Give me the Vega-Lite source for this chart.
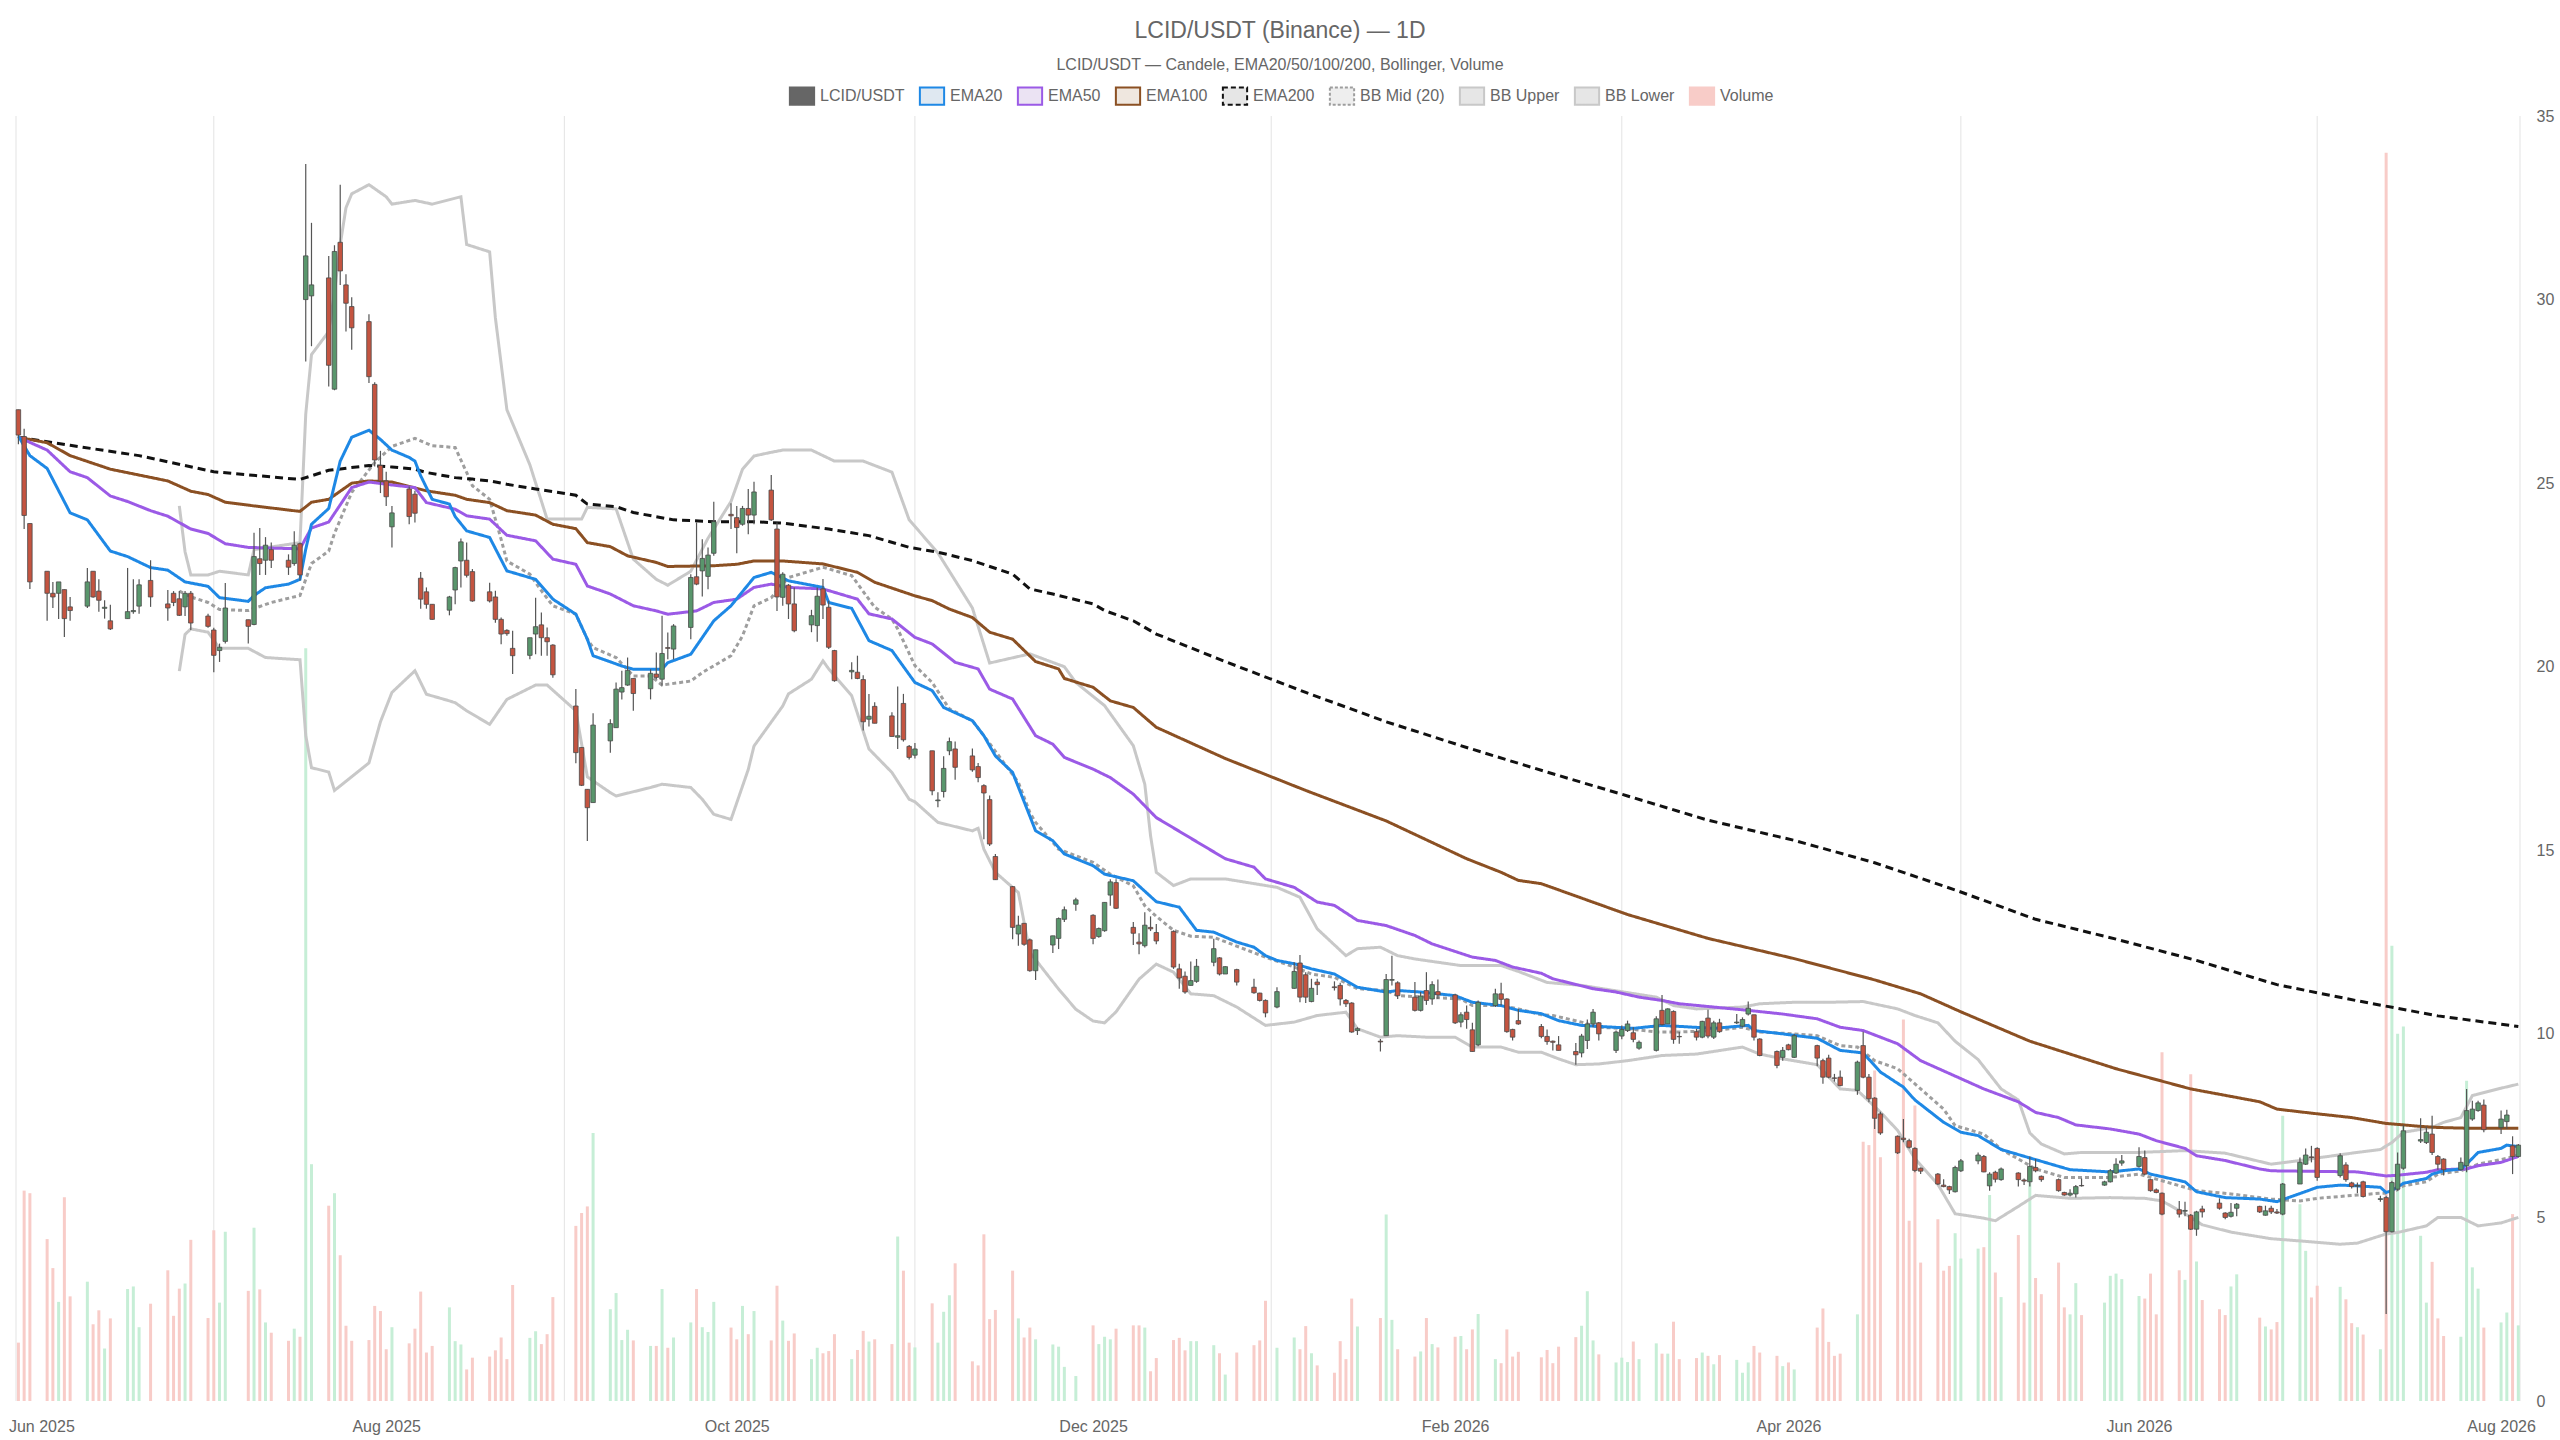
{
  "$schema": "https://vega.github.io/schema/vega-lite/v6.json",
  "width": 2514,
  "height": 1285,
  "autosize": "none",
  "padding": {"left": 11, "top": 116, "right": 35, "bottom": 39},
  "background": "white",
  "config": {
    "font": "Liberation Sans",
    "view": {"stroke": null},
    "axisX": {"grid": false, "domain": false, "ticks": false, "labelFontSize": 16, "labelColor": "#666666", "labelPadding": 17, "title": null},
    "axisY": {"domain": false, "ticks": false, "grid": true, "gridColor": "#d9d9d9", "gridDash": [3, 3], "labelFontSize": 16, "labelColor": "#666666", "labelPadding": 11, "title": null}
  },
  "title": {
    "text": "LCID/USDT (Binance) — 1D",
    "subtitle": "LCID/USDT — Candele, EMA20/50/100/200, Bollinger, Volume",
    "anchor": "middle",
    "frame": "group",
    "dx": 12,
    "offset": 13,
    "fontSize": 23,
    "fontWeight": "normal",
    "color": "#666666",
    "subtitleFontSize": 16,
    "subtitleColor": "#666666",
    "subtitlePadding": 14
  },
  "datasets": {
    "grid": [
      {"d": "2025-05-27T14:00:00Z"},
      {"d": "2025-07-01"}, {"d": "2025-08-31"}, {"d": "2025-10-31"}, {"d": "2026-01-01"},
      {"d": "2026-03-03"}, {"d": "2026-05-01"}, {"d": "2026-07-02"},
      {"d": "2026-08-06T07:00:00Z"}
    ],
    "candles": [
      {"d":"2025-05-28","o":27.0,"h":27.0,"l":26.06,"c":26.31,"v":1.59},
      {"d":"2025-05-29","o":26.27,"h":26.48,"l":23.75,"c":24.12,"v":5.73},
      {"d":"2025-05-30","o":23.9,"h":23.9,"l":22.12,"c":22.31,"v":5.66},
      {"d":"2025-06-02","o":22.6,"h":22.6,"l":21.25,"c":22.0,"v":4.41},
      {"d":"2025-06-03","o":22.0,"h":22.31,"l":21.6,"c":21.9,"v":3.62},
      {"d":"2025-06-04","o":22.0,"h":22.31,"l":21.3,"c":22.31,"v":2.7},
      {"d":"2025-06-05","o":22.1,"h":22.1,"l":20.81,"c":21.31,"v":5.55},
      {"d":"2025-06-06","o":21.63,"h":21.9,"l":21.25,"c":21.53,"v":2.85},
      {"d":"2025-06-09","o":21.65,"h":22.69,"l":21.6,"c":22.31,"v":3.25},
      {"d":"2025-06-10","o":22.6,"h":22.6,"l":21.88,"c":21.9,"v":2.09},
      {"d":"2025-06-11","o":22.06,"h":22.38,"l":21.5,"c":21.81,"v":2.47},
      {"d":"2025-06-12","o":21.59,"h":21.81,"l":21.31,"c":21.62,"v":1.43},
      {"d":"2025-06-13","o":21.25,"h":21.69,"l":21.0,"c":21.03,"v":2.25},
      {"d":"2025-06-16","o":21.31,"h":22.69,"l":21.31,"c":21.5,"v":3.05},
      {"d":"2025-06-17","o":21.5,"h":22.38,"l":21.44,"c":21.53,"v":3.12},
      {"d":"2025-06-18","o":21.65,"h":22.38,"l":21.44,"c":22.23,"v":2.01},
      {"d":"2025-06-20","o":22.35,"h":22.9,"l":21.63,"c":21.9,"v":2.65},
      {"d":"2025-06-23","o":21.71,"h":22.09,"l":21.25,"c":21.6,"v":3.56},
      {"d":"2025-06-24","o":22.0,"h":22.06,"l":21.65,"c":21.75,"v":2.32},
      {"d":"2025-06-25","o":21.85,"h":22.06,"l":21.38,"c":21.4,"v":3.06},
      {"d":"2025-06-26","o":21.63,"h":22.06,"l":21.38,"c":22.0,"v":3.2},
      {"d":"2025-06-27","o":22.0,"h":22.06,"l":21.0,"c":21.19,"v":4.39},
      {"d":"2025-06-30","o":21.38,"h":21.44,"l":21.06,"c":21.1,"v":2.26},
      {"d":"2025-07-01","o":21.0,"h":21.06,"l":19.85,"c":20.31,"v":4.65},
      {"d":"2025-07-02","o":20.44,"h":20.63,"l":20.13,"c":20.53,"v":2.68},
      {"d":"2025-07-03","o":20.69,"h":22.28,"l":20.63,"c":21.6,"v":4.61},
      {"d":"2025-07-07","o":21.28,"h":21.28,"l":20.63,"c":21.1,"v":3.0},
      {"d":"2025-07-08","o":21.15,"h":23.65,"l":21.13,"c":23.0,"v":4.72},
      {"d":"2025-07-09","o":22.94,"h":23.78,"l":22.5,"c":22.81,"v":3.04},
      {"d":"2025-07-10","o":22.9,"h":23.53,"l":22.5,"c":23.31,"v":2.14},
      {"d":"2025-07-11","o":23.19,"h":23.38,"l":22.69,"c":22.9,"v":1.86},
      {"d":"2025-07-14","o":22.9,"h":23.06,"l":22.5,"c":22.71,"v":1.64},
      {"d":"2025-07-15","o":22.81,"h":23.69,"l":22.75,"c":23.31,"v":1.97},
      {"d":"2025-07-16","o":23.35,"h":23.38,"l":22.35,"c":22.5,"v":1.75},
      {"d":"2025-07-17","o":30.0,"h":33.69,"l":28.31,"c":31.19,"v":20.5},
      {"d":"2025-07-18","o":30.1,"h":32.09,"l":28.73,"c":30.4,"v":6.45},
      {"d":"2025-07-21","o":30.59,"h":31.19,"l":27.63,"c":28.21,"v":5.32},
      {"d":"2025-07-22","o":27.56,"h":31.48,"l":27.53,"c":31.31,"v":5.66},
      {"d":"2025-07-23","o":31.56,"h":33.13,"l":30.4,"c":30.78,"v":3.97},
      {"d":"2025-07-24","o":30.4,"h":30.69,"l":29.13,"c":29.9,"v":2.05},
      {"d":"2025-07-25","o":29.81,"h":30.06,"l":28.63,"c":29.23,"v":1.64},
      {"d":"2025-07-28","o":29.4,"h":29.6,"l":27.73,"c":27.9,"v":1.66},
      {"d":"2025-07-29","o":27.69,"h":27.75,"l":25.45,"c":25.63,"v":2.59},
      {"d":"2025-07-30","o":25.48,"h":25.88,"l":24.73,"c":25.06,"v":2.45},
      {"d":"2025-07-31","o":25.06,"h":25.31,"l":24.38,"c":24.63,"v":1.41},
      {"d":"2025-08-01","o":23.81,"h":24.38,"l":23.25,"c":24.19,"v":2.01},
      {"d":"2025-08-04","o":24.84,"h":24.91,"l":23.88,"c":24.09,"v":1.57},
      {"d":"2025-08-05","o":24.7,"h":24.79,"l":23.93,"c":24.18,"v":1.97},
      {"d":"2025-08-06","o":22.41,"h":22.58,"l":21.58,"c":21.84,"v":2.98},
      {"d":"2025-08-07","o":22.04,"h":22.16,"l":21.58,"c":21.7,"v":1.32},
      {"d":"2025-08-08","o":21.7,"h":21.7,"l":21.28,"c":21.29,"v":1.5},
      {"d":"2025-08-11","o":21.54,"h":21.93,"l":21.4,"c":21.9,"v":2.55},
      {"d":"2025-08-12","o":22.09,"h":22.72,"l":21.7,"c":22.7,"v":1.63},
      {"d":"2025-08-13","o":22.88,"h":23.49,"l":22.16,"c":23.4,"v":1.54},
      {"d":"2025-08-14","o":22.9,"h":23.38,"l":22.43,"c":22.49,"v":0.86},
      {"d":"2025-08-15","o":22.59,"h":22.66,"l":21.77,"c":21.79,"v":1.18},
      {"d":"2025-08-18","o":22.04,"h":22.29,"l":21.75,"c":21.79,"v":1.21},
      {"d":"2025-08-19","o":21.9,"h":22.07,"l":21.2,"c":21.29,"v":1.38},
      {"d":"2025-08-20","o":21.29,"h":21.34,"l":20.61,"c":20.89,"v":1.73},
      {"d":"2025-08-21","o":20.99,"h":21.02,"l":20.84,"c":20.9,"v":1.14},
      {"d":"2025-08-22","o":20.5,"h":20.98,"l":19.8,"c":20.3,"v":3.16},
      {"d":"2025-08-25","o":20.31,"h":20.79,"l":20.2,"c":20.79,"v":1.72},
      {"d":"2025-08-26","o":20.89,"h":21.88,"l":20.34,"c":21.09,"v":1.9},
      {"d":"2025-08-27","o":21.14,"h":21.48,"l":20.3,"c":20.79,"v":1.55},
      {"d":"2025-08-28","o":20.79,"h":21.07,"l":20.3,"c":20.68,"v":1.82},
      {"d":"2025-08-29","o":20.59,"h":20.61,"l":19.7,"c":19.78,"v":2.83},
      {"d":"2025-09-02","o":18.93,"h":19.39,"l":17.37,"c":17.66,"v":4.77},
      {"d":"2025-09-03","o":17.8,"h":17.8,"l":16.75,"c":16.77,"v":5.12},
      {"d":"2025-09-04","o":16.66,"h":16.66,"l":15.25,"c":16.16,"v":5.3},
      {"d":"2025-09-05","o":16.3,"h":18.73,"l":16.3,"c":18.41,"v":7.3},
      {"d":"2025-09-08","o":17.98,"h":18.57,"l":17.66,"c":18.45,"v":2.5},
      {"d":"2025-09-09","o":18.34,"h":19.57,"l":18.34,"c":19.39,"v":2.94},
      {"d":"2025-09-10","o":19.31,"h":19.89,"l":19.11,"c":19.43,"v":1.66},
      {"d":"2025-09-11","o":19.5,"h":20.25,"l":19.48,"c":19.9,"v":1.94},
      {"d":"2025-09-12","o":19.68,"h":19.68,"l":18.8,"c":19.27,"v":1.65},
      {"d":"2025-09-15","o":19.4,"h":19.93,"l":19.11,"c":19.82,"v":1.5},
      {"d":"2025-09-16","o":19.8,"h":20.39,"l":19.66,"c":19.71,"v":1.5},
      {"d":"2025-09-17","o":19.66,"h":21.39,"l":19.48,"c":20.36,"v":3.05},
      {"d":"2025-09-18","o":20.52,"h":20.93,"l":20.2,"c":20.5,"v":1.45},
      {"d":"2025-09-19","o":20.48,"h":21.16,"l":20.2,"c":21.11,"v":1.73},
      {"d":"2025-09-22","o":21.07,"h":22.52,"l":20.75,"c":22.43,"v":2.14},
      {"d":"2025-09-23","o":22.45,"h":23.93,"l":22.22,"c":22.25,"v":3.05},
      {"d":"2025-09-24","o":22.61,"h":23.47,"l":21.91,"c":22.95,"v":2.01},
      {"d":"2025-09-25","o":22.46,"h":23.25,"l":22.11,"c":23.04,"v":1.88},
      {"d":"2025-09-26","o":23.09,"h":24.49,"l":23.02,"c":23.95,"v":2.7},
      {"d":"2025-09-29","o":24.15,"h":24.45,"l":23.75,"c":24.11,"v":2.0},
      {"d":"2025-09-30","o":24.06,"h":24.38,"l":23.09,"c":23.79,"v":1.68},
      {"d":"2025-10-01","o":23.88,"h":24.38,"l":23.84,"c":24.31,"v":2.59},
      {"d":"2025-10-02","o":24.31,"h":24.84,"l":23.61,"c":24.13,"v":1.82},
      {"d":"2025-10-03","o":24.13,"h":25.04,"l":23.88,"c":24.76,"v":2.45},
      {"d":"2025-10-06","o":24.81,"h":25.22,"l":23.97,"c":24.0,"v":1.65},
      {"d":"2025-10-07","o":23.75,"h":23.93,"l":21.52,"c":21.9,"v":3.14},
      {"d":"2025-10-08","o":21.89,"h":22.57,"l":21.66,"c":22.52,"v":2.19},
      {"d":"2025-10-09","o":22.22,"h":22.25,"l":21.3,"c":21.71,"v":1.64},
      {"d":"2025-10-10","o":21.71,"h":22.16,"l":20.94,"c":20.98,"v":1.84},
      {"d":"2025-10-13","o":21.14,"h":21.55,"l":20.94,"c":21.39,"v":1.14},
      {"d":"2025-10-14","o":21.12,"h":22.16,"l":20.68,"c":21.92,"v":1.45},
      {"d":"2025-10-15","o":22.12,"h":22.39,"l":21.3,"c":21.68,"v":1.3},
      {"d":"2025-10-16","o":21.62,"h":21.8,"l":20.48,"c":20.53,"v":1.36},
      {"d":"2025-10-17","o":20.44,"h":20.46,"l":19.59,"c":19.62,"v":1.82},
      {"d":"2025-10-20","o":19.86,"h":20.12,"l":19.66,"c":19.9,"v":1.14},
      {"d":"2025-10-21","o":19.85,"h":20.3,"l":19.66,"c":19.68,"v":1.39},
      {"d":"2025-10-22","o":19.65,"h":19.77,"l":18.26,"c":18.5,"v":1.91},
      {"d":"2025-10-23","o":18.57,"h":19.26,"l":18.37,"c":18.65,"v":1.62},
      {"d":"2025-10-24","o":18.92,"h":19.03,"l":18.46,"c":18.46,"v":1.68},
      {"d":"2025-10-27","o":18.66,"h":18.76,"l":18.1,"c":18.1,"v":1.55},
      {"d":"2025-10-28","o":18.08,"h":19.46,"l":17.76,"c":18.12,"v":4.48},
      {"d":"2025-10-29","o":19.0,"h":19.26,"l":17.96,"c":18.01,"v":3.55},
      {"d":"2025-10-30","o":17.83,"h":17.87,"l":17.47,"c":17.53,"v":1.59},
      {"d":"2025-10-31","o":17.59,"h":17.92,"l":17.5,"c":17.76,"v":1.46},
      {"d":"2025-11-03","o":17.71,"h":17.71,"l":16.5,"c":16.62,"v":2.66},
      {"d":"2025-11-04","o":16.35,"h":16.58,"l":16.17,"c":16.37,"v":1.59},
      {"d":"2025-11-05","o":16.6,"h":17.56,"l":16.44,"c":17.23,"v":2.43},
      {"d":"2025-11-06","o":17.71,"h":18.07,"l":17.59,"c":17.96,"v":2.88},
      {"d":"2025-11-07","o":17.76,"h":17.96,"l":16.92,"c":17.26,"v":3.75},
      {"d":"2025-11-10","o":17.57,"h":17.77,"l":17.14,"c":17.19,"v":1.08},
      {"d":"2025-11-11","o":17.28,"h":17.38,"l":16.85,"c":16.98,"v":0.97},
      {"d":"2025-11-12","o":16.76,"h":16.8,"l":15.3,"c":16.56,"v":4.54},
      {"d":"2025-11-13","o":16.38,"h":16.49,"l":15.12,"c":15.17,"v":2.23},
      {"d":"2025-11-14","o":14.83,"h":14.9,"l":14.2,"c":14.2,"v":2.48},
      {"d":"2025-11-17","o":14.01,"h":14.03,"l":12.58,"c":12.9,"v":3.55},
      {"d":"2025-11-18","o":12.72,"h":13.22,"l":12.4,"c":12.96,"v":2.25},
      {"d":"2025-11-19","o":13.01,"h":13.01,"l":12.4,"c":12.44,"v":1.73},
      {"d":"2025-11-20","o":12.56,"h":12.6,"l":11.69,"c":11.72,"v":2.0},
      {"d":"2025-11-21","o":11.72,"h":12.29,"l":11.47,"c":12.29,"v":1.68},
      {"d":"2025-11-24","o":12.42,"h":12.67,"l":12.2,"c":12.67,"v":1.54},
      {"d":"2025-11-25","o":12.6,"h":13.17,"l":12.31,"c":13.14,"v":1.48},
      {"d":"2025-11-26","o":13.12,"h":13.47,"l":13.05,"c":13.38,"v":0.93},
      {"d":"2025-11-28","o":13.53,"h":13.71,"l":13.35,"c":13.65,"v":0.68},
      {"d":"2025-12-01","o":13.23,"h":13.26,"l":12.44,"c":12.6,"v":2.06},
      {"d":"2025-12-02","o":12.65,"h":12.9,"l":12.62,"c":12.87,"v":1.55},
      {"d":"2025-12-03","o":12.81,"h":13.58,"l":12.78,"c":13.58,"v":1.75},
      {"d":"2025-12-04","o":13.78,"h":14.21,"l":13.49,"c":14.14,"v":1.68},
      {"d":"2025-12-05","o":14.12,"h":14.21,"l":13.4,"c":13.42,"v":1.97},
      {"d":"2025-12-08","o":12.9,"h":13.05,"l":12.42,"c":12.74,"v":2.06},
      {"d":"2025-12-09","o":12.5,"h":12.74,"l":12.17,"c":12.45,"v":2.06},
      {"d":"2025-12-10","o":12.4,"h":13.31,"l":12.35,"c":12.96,"v":2.0},
      {"d":"2025-12-11","o":12.9,"h":13.2,"l":12.8,"c":12.86,"v":0.81},
      {"d":"2025-12-12","o":12.76,"h":12.99,"l":12.44,"c":12.53,"v":1.17},
      {"d":"2025-12-15","o":12.79,"h":12.82,"l":11.77,"c":11.82,"v":1.66},
      {"d":"2025-12-16","o":11.77,"h":11.91,"l":11.23,"c":11.52,"v":1.72},
      {"d":"2025-12-17","o":11.57,"h":11.7,"l":11.09,"c":11.14,"v":1.38},
      {"d":"2025-12-18","o":11.32,"h":11.97,"l":11.32,"c":11.45,"v":1.63},
      {"d":"2025-12-19","o":11.43,"h":12.04,"l":11.39,"c":11.84,"v":1.63},
      {"d":"2025-12-22","o":11.95,"h":12.59,"l":11.84,"c":12.32,"v":1.52},
      {"d":"2025-12-23","o":12.07,"h":12.09,"l":11.59,"c":11.63,"v":1.3},
      {"d":"2025-12-24","o":11.63,"h":11.84,"l":11.63,"c":11.83,"v":0.72},
      {"d":"2025-12-26","o":11.75,"h":11.77,"l":11.32,"c":11.41,"v":1.32},
      {"d":"2025-12-29","o":11.27,"h":11.5,"l":11.09,"c":11.12,"v":1.52},
      {"d":"2025-12-30","o":11.11,"h":11.12,"l":10.88,"c":10.91,"v":1.65},
      {"d":"2025-12-31","o":10.91,"h":10.94,"l":10.45,"c":10.57,"v":2.73},
      {"d":"2026-01-02","o":10.73,"h":11.27,"l":10.7,"c":11.15,"v":1.45},
      {"d":"2026-01-05","o":11.24,"h":11.95,"l":11.23,"c":11.7,"v":1.73},
      {"d":"2026-01-06","o":11.93,"h":12.15,"l":10.86,"c":11.0,"v":1.41},
      {"d":"2026-01-07","o":11.61,"h":11.68,"l":10.84,"c":11.0,"v":2.04},
      {"d":"2026-01-08","o":10.88,"h":11.5,"l":10.86,"c":11.24,"v":1.3},
      {"d":"2026-01-09","o":11.41,"h":11.5,"l":11.06,"c":11.34,"v":0.97},
      {"d":"2026-01-12","o":11.28,"h":11.43,"l":11.18,"c":11.26,"v":0.77},
      {"d":"2026-01-13","o":11.32,"h":11.39,"l":10.77,"c":10.95,"v":1.63},
      {"d":"2026-01-14","o":10.91,"h":10.95,"l":10.73,"c":10.82,"v":1.14},
      {"d":"2026-01-15","o":10.84,"h":10.86,"l":10.03,"c":10.05,"v":2.79},
      {"d":"2026-01-16","o":10.09,"h":10.18,"l":9.97,"c":10.14,"v":2.03},
      {"d":"2026-01-20","o":9.8,"h":9.86,"l":9.52,"c":9.78,"v":2.26},
      {"d":"2026-01-21","o":9.95,"h":11.63,"l":9.95,"c":11.48,"v":5.08},
      {"d":"2026-01-22","o":11.46,"h":12.13,"l":11.32,"c":11.48,"v":2.21},
      {"d":"2026-01-23","o":11.39,"h":11.43,"l":10.95,"c":11.04,"v":1.41},
      {"d":"2026-01-26","o":11.0,"h":11.41,"l":10.61,"c":10.64,"v":1.21},
      {"d":"2026-01-27","o":10.64,"h":11.14,"l":10.61,"c":11.03,"v":1.35},
      {"d":"2026-01-28","o":11.18,"h":11.68,"l":10.79,"c":10.91,"v":2.26},
      {"d":"2026-01-29","o":10.95,"h":11.43,"l":10.79,"c":11.34,"v":1.55},
      {"d":"2026-01-30","o":11.15,"h":11.48,"l":10.95,"c":11.06,"v":1.46},
      {"d":"2026-02-02","o":11.06,"h":11.09,"l":10.27,"c":10.3,"v":1.75},
      {"d":"2026-02-03","o":10.32,"h":10.59,"l":10.18,"c":10.52,"v":1.77},
      {"d":"2026-02-04","o":10.59,"h":10.77,"l":10.14,"c":10.39,"v":1.41},
      {"d":"2026-02-05","o":10.11,"h":10.3,"l":9.52,"c":9.52,"v":1.95},
      {"d":"2026-02-06","o":9.7,"h":10.91,"l":9.66,"c":10.86,"v":2.37},
      {"d":"2026-02-09","o":10.77,"h":11.23,"l":10.73,"c":11.09,"v":1.14},
      {"d":"2026-02-10","o":11.09,"h":11.39,"l":10.77,"c":10.94,"v":1.03},
      {"d":"2026-02-11","o":10.95,"h":10.97,"l":10.03,"c":10.06,"v":1.95},
      {"d":"2026-02-12","o":10.12,"h":10.14,"l":9.82,"c":9.91,"v":1.21},
      {"d":"2026-02-13","o":10.36,"h":10.68,"l":10.25,"c":10.27,"v":1.34},
      {"d":"2026-02-17","o":10.2,"h":10.27,"l":9.88,"c":9.93,"v":1.19},
      {"d":"2026-02-18","o":9.93,"h":10.12,"l":9.7,"c":9.79,"v":1.39},
      {"d":"2026-02-19","o":9.8,"h":9.82,"l":9.55,"c":9.77,"v":1.03},
      {"d":"2026-02-20","o":9.7,"h":9.94,"l":9.55,"c":9.55,"v":1.48},
      {"d":"2026-02-23","o":9.52,"h":9.75,"l":9.16,"c":9.43,"v":1.74},
      {"d":"2026-02-24","o":9.48,"h":10.0,"l":9.36,"c":9.94,"v":2.05},
      {"d":"2026-02-25","o":9.82,"h":10.39,"l":9.59,"c":10.27,"v":2.99},
      {"d":"2026-02-26","o":10.27,"h":10.68,"l":10.18,"c":10.59,"v":1.65},
      {"d":"2026-02-27","o":10.3,"h":10.32,"l":9.82,"c":10.0,"v":1.27},
      {"d":"2026-03-02","o":9.55,"h":10.09,"l":9.48,"c":10.05,"v":1.05},
      {"d":"2026-03-03","o":9.94,"h":10.23,"l":9.85,"c":10.12,"v":1.18},
      {"d":"2026-03-04","o":10.09,"h":10.36,"l":10.05,"c":10.27,"v":1.06},
      {"d":"2026-03-05","o":10.03,"h":10.18,"l":9.77,"c":9.85,"v":1.62},
      {"d":"2026-03-06","o":9.61,"h":9.82,"l":9.57,"c":9.77,"v":1.14},
      {"d":"2026-03-09","o":9.55,"h":10.48,"l":9.52,"c":10.41,"v":1.57},
      {"d":"2026-03-10","o":10.64,"h":11.06,"l":10.23,"c":10.25,"v":1.29},
      {"d":"2026-03-11","o":10.27,"h":10.7,"l":10.27,"c":10.68,"v":1.29},
      {"d":"2026-03-12","o":10.61,"h":10.64,"l":9.73,"c":9.85,"v":2.16},
      {"d":"2026-03-13","o":9.93,"h":10.05,"l":9.73,"c":9.92,"v":1.14},
      {"d":"2026-03-16","o":10.06,"h":10.14,"l":9.82,"c":9.91,"v":1.17},
      {"d":"2026-03-17","o":9.91,"h":10.36,"l":9.88,"c":10.34,"v":1.32},
      {"d":"2026-03-18","o":10.43,"h":10.66,"l":9.88,"c":9.94,"v":1.23},
      {"d":"2026-03-19","o":9.91,"h":10.36,"l":9.86,"c":10.3,"v":1.0},
      {"d":"2026-03-20","o":10.3,"h":10.41,"l":10.03,"c":10.06,"v":1.25},
      {"d":"2026-03-23","o":10.3,"h":10.54,"l":10.27,"c":10.32,"v":1.12},
      {"d":"2026-03-24","o":10.21,"h":10.45,"l":10.18,"c":10.39,"v":0.77},
      {"d":"2026-03-25","o":10.54,"h":10.88,"l":10.5,"c":10.7,"v":1.05},
      {"d":"2026-03-26","o":10.52,"h":10.52,"l":9.82,"c":9.91,"v":1.5},
      {"d":"2026-03-27","o":9.86,"h":9.88,"l":9.39,"c":9.41,"v":1.32},
      {"d":"2026-03-30","o":9.52,"h":9.55,"l":9.06,"c":9.14,"v":1.23},
      {"d":"2026-03-31","o":9.36,"h":9.64,"l":9.27,"c":9.55,"v":0.95},
      {"d":"2026-04-01","o":9.7,"h":9.73,"l":9.55,"c":9.57,"v":1.05},
      {"d":"2026-04-02","o":9.36,"h":10.0,"l":9.34,"c":9.95,"v":0.86},
      {"d":"2026-04-06","o":9.68,"h":9.7,"l":9.12,"c":9.34,"v":2.0},
      {"d":"2026-04-07","o":9.27,"h":9.32,"l":8.64,"c":8.82,"v":2.52},
      {"d":"2026-04-08","o":9.34,"h":9.43,"l":8.79,"c":8.82,"v":1.61},
      {"d":"2026-04-09","o":8.8,"h":8.91,"l":8.7,"c":8.79,"v":1.23},
      {"d":"2026-04-10","o":8.82,"h":9.0,"l":8.57,"c":8.59,"v":1.29},
      {"d":"2026-04-13","o":8.46,"h":9.27,"l":8.34,"c":9.23,"v":2.36},
      {"d":"2026-04-14","o":9.68,"h":10.06,"l":8.79,"c":8.82,"v":7.06},
      {"d":"2026-04-15","o":8.82,"h":8.91,"l":8.14,"c":8.23,"v":6.97},
      {"d":"2026-04-16","o":8.25,"h":8.27,"l":7.41,"c":7.7,"v":9.0},
      {"d":"2026-04-17","o":7.82,"h":7.88,"l":7.25,"c":7.3,"v":6.64},
      {"d":"2026-04-20","o":7.21,"h":7.23,"l":6.73,"c":6.76,"v":7.23},
      {"d":"2026-04-21","o":7.16,"h":7.68,"l":7.05,"c":7.12,"v":10.39},
      {"d":"2026-04-22","o":7.09,"h":7.14,"l":6.88,"c":6.91,"v":4.91},
      {"d":"2026-04-23","o":6.88,"h":6.91,"l":6.23,"c":6.28,"v":8.05},
      {"d":"2026-04-24","o":6.34,"h":6.36,"l":6.18,"c":6.26,"v":3.77},
      {"d":"2026-04-27","o":6.18,"h":6.21,"l":5.88,"c":5.91,"v":4.95},
      {"d":"2026-04-28","o":5.88,"h":6.04,"l":5.82,"c":5.84,"v":3.55},
      {"d":"2026-04-29","o":5.84,"h":5.86,"l":5.64,"c":5.75,"v":3.68},
      {"d":"2026-04-30","o":5.7,"h":6.41,"l":5.68,"c":6.36,"v":4.57},
      {"d":"2026-05-01","o":6.27,"h":6.59,"l":6.24,"c":6.54,"v":3.88},
      {"d":"2026-05-04","o":6.54,"h":6.77,"l":6.45,"c":6.7,"v":4.15},
      {"d":"2026-05-05","o":6.66,"h":6.7,"l":6.23,"c":6.24,"v":4.19},
      {"d":"2026-05-06","o":5.86,"h":6.23,"l":5.73,"c":6.18,"v":5.61},
      {"d":"2026-05-07","o":6.23,"h":6.27,"l":5.95,"c":6.04,"v":3.5},
      {"d":"2026-05-08","o":6.03,"h":6.36,"l":6.0,"c":6.32,"v":2.83},
      {"d":"2026-05-11","o":6.21,"h":6.23,"l":5.84,"c":6.03,"v":4.52},
      {"d":"2026-05-12","o":6.02,"h":6.06,"l":5.88,"c":5.99,"v":2.68},
      {"d":"2026-05-13","o":5.97,"h":6.66,"l":5.84,"c":6.39,"v":5.95},
      {"d":"2026-05-14","o":6.36,"h":6.59,"l":6.23,"c":6.27,"v":3.35},
      {"d":"2026-05-15","o":6.12,"h":6.14,"l":5.97,"c":6.03,"v":2.91},
      {"d":"2026-05-18","o":6.03,"h":6.06,"l":5.7,"c":5.73,"v":3.77},
      {"d":"2026-05-19","o":5.68,"h":5.7,"l":5.59,"c":5.61,"v":2.55},
      {"d":"2026-05-20","o":5.61,"h":5.77,"l":5.57,"c":5.66,"v":2.36},
      {"d":"2026-05-21","o":5.64,"h":5.88,"l":5.54,"c":5.84,"v":3.21},
      {"d":"2026-05-22","o":5.87,"h":6.06,"l":5.84,"c":5.86,"v":2.34},
      {"d":"2026-05-26","o":5.88,"h":6.0,"l":5.86,"c":5.97,"v":2.68},
      {"d":"2026-05-27","o":5.97,"h":6.32,"l":5.95,"c":6.27,"v":3.41},
      {"d":"2026-05-28","o":6.21,"h":6.61,"l":6.18,"c":6.45,"v":3.47},
      {"d":"2026-05-29","o":6.48,"h":6.7,"l":6.41,"c":6.54,"v":3.32},
      {"d":"2026-06-01","o":6.39,"h":6.91,"l":6.36,"c":6.66,"v":2.86},
      {"d":"2026-06-02","o":6.63,"h":6.82,"l":6.15,"c":6.18,"v":2.79},
      {"d":"2026-06-03","o":6.03,"h":6.04,"l":5.7,"c":5.73,"v":3.47},
      {"d":"2026-06-04","o":5.75,"h":5.79,"l":5.66,"c":5.68,"v":2.36},
      {"d":"2026-06-05","o":5.66,"h":5.68,"l":5.06,"c":5.09,"v":9.5},
      {"d":"2026-06-08","o":5.21,"h":5.45,"l":5.0,"c":5.09,"v":3.56},
      {"d":"2026-06-09","o":5.17,"h":5.43,"l":5.03,"c":5.19,"v":3.3},
      {"d":"2026-06-10","o":5.06,"h":5.09,"l":4.66,"c":4.68,"v":8.9},
      {"d":"2026-06-11","o":4.68,"h":5.18,"l":4.5,"c":5.15,"v":3.8},
      {"d":"2026-06-12","o":5.23,"h":5.32,"l":5.0,"c":5.15,"v":2.75},
      {"d":"2026-06-15","o":5.39,"h":5.52,"l":5.21,"c":5.25,"v":2.5},
      {"d":"2026-06-16","o":5.12,"h":5.14,"l":4.95,"c":5.0,"v":2.34},
      {"d":"2026-06-17","o":5.03,"h":5.39,"l":5.0,"c":5.14,"v":3.12},
      {"d":"2026-06-18","o":5.25,"h":5.39,"l":5.03,"c":5.36,"v":3.45},
      {"d":"2026-06-22","o":5.3,"h":5.32,"l":5.12,"c":5.15,"v":2.27},
      {"d":"2026-06-23","o":5.06,"h":5.32,"l":5.05,"c":5.18,"v":2.03},
      {"d":"2026-06-24","o":5.25,"h":5.32,"l":5.09,"c":5.15,"v":1.95},
      {"d":"2026-06-25","o":5.15,"h":5.23,"l":5.09,"c":5.12,"v":2.15},
      {"d":"2026-06-26","o":5.09,"h":5.94,"l":5.06,"c":5.91,"v":7.77},
      {"d":"2026-06-29","o":5.91,"h":6.63,"l":5.91,"c":6.5,"v":5.36},
      {"d":"2026-06-30","o":6.45,"h":6.88,"l":6.43,"c":6.7,"v":4.09},
      {"d":"2026-07-01","o":6.65,"h":6.95,"l":6.5,"c":6.63,"v":2.82},
      {"d":"2026-07-02","o":6.88,"h":6.91,"l":6.0,"c":6.09,"v":3.14},
      {"d":"2026-07-06","o":6.14,"h":6.75,"l":6.09,"c":6.68,"v":3.11},
      {"d":"2026-07-07","o":6.43,"h":6.5,"l":5.97,"c":6.03,"v":2.77},
      {"d":"2026-07-08","o":5.94,"h":5.97,"l":5.79,"c":5.84,"v":2.12},
      {"d":"2026-07-09","o":5.85,"h":5.95,"l":5.66,"c":5.87,"v":2.01},
      {"d":"2026-07-10","o":5.97,"h":6.0,"l":5.54,"c":5.57,"v":1.81},
      {"d":"2026-07-13","o":5.49,"h":5.59,"l":5.43,"c":5.51,"v":1.41},
      {"d":"2026-07-14","o":5.54,"h":5.59,"l":2.37,"c":4.61,"v":34.0},
      {"d":"2026-07-15","o":4.61,"h":6.0,"l":4.59,"c":5.95,"v":12.4},
      {"d":"2026-07-16","o":5.77,"h":6.77,"l":5.73,"c":6.45,"v":10.0},
      {"d":"2026-07-17","o":6.34,"h":7.52,"l":6.3,"c":7.36,"v":10.2},
      {"d":"2026-07-20","o":7.08,"h":7.7,"l":7.03,"c":7.12,"v":4.5},
      {"d":"2026-07-21","o":7.04,"h":7.48,"l":7.0,"c":7.32,"v":2.68},
      {"d":"2026-07-22","o":7.27,"h":7.77,"l":6.7,"c":6.77,"v":3.79},
      {"d":"2026-07-23","o":6.66,"h":6.7,"l":6.3,"c":6.45,"v":2.25},
      {"d":"2026-07-24","o":6.59,"h":6.61,"l":6.14,"c":6.3,"v":1.77},
      {"d":"2026-07-27","o":6.3,"h":6.63,"l":6.27,"c":6.5,"v":1.75},
      {"d":"2026-07-28","o":6.41,"h":8.5,"l":6.23,"c":7.91,"v":8.72},
      {"d":"2026-07-29","o":7.68,"h":8.18,"l":7.63,"c":7.95,"v":3.64},
      {"d":"2026-07-30","o":7.91,"h":8.18,"l":7.88,"c":8.12,"v":3.06},
      {"d":"2026-07-31","o":8.06,"h":8.21,"l":7.32,"c":7.39,"v":2.0},
      {"d":"2026-08-03","o":7.45,"h":7.91,"l":7.27,"c":7.68,"v":2.14},
      {"d":"2026-08-04","o":7.61,"h":7.93,"l":7.41,"c":7.79,"v":2.41},
      {"d":"2026-08-05","o":6.95,"h":7.21,"l":6.18,"c":6.66,"v":5.09},
      {"d":"2026-08-06","o":6.66,"h":7.0,"l":6.63,"c":6.97,"v":2.06}
    ],
    "lines": [
      {"d":"2025-06-25","s":"BB Upper","v":24.38},{"d":"2025-06-26","s":"BB Upper","v":23.13},{"d":"2025-06-27","s":"BB Upper","v":22.5},{"d":"2025-06-30","s":"BB Upper","v":22.5},{"d":"2025-07-02","s":"BB Upper","v":22.6},{"d":"2025-07-07","s":"BB Upper","v":22.5},{"d":"2025-07-08","s":"BB Upper","v":23.19},{"d":"2025-07-16","s":"BB Upper","v":23.38},{"d":"2025-07-17","s":"BB Upper","v":26.88},{"d":"2025-07-18","s":"BB Upper","v":28.5},{"d":"2025-07-21","s":"BB Upper","v":29.13},{"d":"2025-07-22","s":"BB Upper","v":30.2},{"d":"2025-07-23","s":"BB Upper","v":31.5},{"d":"2025-07-24","s":"BB Upper","v":32.5},{"d":"2025-07-25","s":"BB Upper","v":32.88},{"d":"2025-07-28","s":"BB Upper","v":33.13},{"d":"2025-07-31","s":"BB Upper","v":32.8},{"d":"2025-08-01","s":"BB Upper","v":32.6},{"d":"2025-08-05","s":"BB Upper","v":32.7},{"d":"2025-08-08","s":"BB Upper","v":32.6},{"d":"2025-08-13","s":"BB Upper","v":32.8},{"d":"2025-08-14","s":"BB Upper","v":31.5},{"d":"2025-08-18","s":"BB Upper","v":31.3},{"d":"2025-08-19","s":"BB Upper","v":29.5},{"d":"2025-08-21","s":"BB Upper","v":27.0},{"d":"2025-08-25","s":"BB Upper","v":25.5},{"d":"2025-08-28","s":"BB Upper","v":24.02},{"d":"2025-09-03","s":"BB Upper","v":24.02},{"d":"2025-09-04","s":"BB Upper","v":24.34},{"d":"2025-09-09","s":"BB Upper","v":24.3},{"d":"2025-09-12","s":"BB Upper","v":22.93},{"d":"2025-09-16","s":"BB Upper","v":22.38},{"d":"2025-09-18","s":"BB Upper","v":22.22},{"d":"2025-09-22","s":"BB Upper","v":22.6},{"d":"2025-09-25","s":"BB Upper","v":23.5},{"d":"2025-09-29","s":"BB Upper","v":24.5},{"d":"2025-10-01","s":"BB Upper","v":25.38},{"d":"2025-10-03","s":"BB Upper","v":25.74},{"d":"2025-10-06","s":"BB Upper","v":25.84},{"d":"2025-10-08","s":"BB Upper","v":25.9},{"d":"2025-10-13","s":"BB Upper","v":25.9},{"d":"2025-10-17","s":"BB Upper","v":25.6},{"d":"2025-10-22","s":"BB Upper","v":25.6},{"d":"2025-10-27","s":"BB Upper","v":25.3},{"d":"2025-10-30","s":"BB Upper","v":24.0},{"d":"2025-11-04","s":"BB Upper","v":23.1},{"d":"2025-11-10","s":"BB Upper","v":21.6},{"d":"2025-11-13","s":"BB Upper","v":20.1},{"d":"2025-11-20","s":"BB Upper","v":20.35},{"d":"2025-11-26","s":"BB Upper","v":20.0},{"d":"2025-11-28","s":"BB Upper","v":19.57},{"d":"2025-12-03","s":"BB Upper","v":18.94},{"d":"2025-12-08","s":"BB Upper","v":17.85},{"d":"2025-12-10","s":"BB Upper","v":16.8},{"d":"2025-12-11","s":"BB Upper","v":15.4},{"d":"2025-12-12","s":"BB Upper","v":14.4},{"d":"2025-12-15","s":"BB Upper","v":14.04},{"d":"2025-12-18","s":"BB Upper","v":14.22},{"d":"2025-12-24","s":"BB Upper","v":14.22},{"d":"2026-01-02","s":"BB Upper","v":13.99},{"d":"2026-01-06","s":"BB Upper","v":13.72},{"d":"2026-01-09","s":"BB Upper","v":12.86},{"d":"2026-01-14","s":"BB Upper","v":12.13},{"d":"2026-01-16","s":"BB Upper","v":12.32},{"d":"2026-01-20","s":"BB Upper","v":12.36},{"d":"2026-01-23","s":"BB Upper","v":12.13},{"d":"2026-01-26","s":"BB Upper","v":12.04},{"d":"2026-02-03","s":"BB Upper","v":11.86},{"d":"2026-02-10","s":"BB Upper","v":11.86},{"d":"2026-02-13","s":"BB Upper","v":11.7},{"d":"2026-02-18","s":"BB Upper","v":11.4},{"d":"2026-02-24","s":"BB Upper","v":11.32},{"d":"2026-03-09","s":"BB Upper","v":11.0},{"d":"2026-03-12","s":"BB Upper","v":10.77},{"d":"2026-03-16","s":"BB Upper","v":10.68},{"d":"2026-03-24","s":"BB Upper","v":10.73},{"d":"2026-03-27","s":"BB Upper","v":10.82},{"d":"2026-04-02","s":"BB Upper","v":10.86},{"d":"2026-04-08","s":"BB Upper","v":10.86},{"d":"2026-04-14","s":"BB Upper","v":10.88},{"d":"2026-04-20","s":"BB Upper","v":10.68},{"d":"2026-04-23","s":"BB Upper","v":10.5},{"d":"2026-04-27","s":"BB Upper","v":10.3},{"d":"2026-04-30","s":"BB Upper","v":9.8},{"d":"2026-05-04","s":"BB Upper","v":9.3},{"d":"2026-05-06","s":"BB Upper","v":8.9},{"d":"2026-05-08","s":"BB Upper","v":8.5},{"d":"2026-05-11","s":"BB Upper","v":8.2},{"d":"2026-05-13","s":"BB Upper","v":7.3},{"d":"2026-05-15","s":"BB Upper","v":7.0},{"d":"2026-05-19","s":"BB Upper","v":6.73},{"d":"2026-05-22","s":"BB Upper","v":6.77},{"d":"2026-06-01","s":"BB Upper","v":6.77},{"d":"2026-06-09","s":"BB Upper","v":6.82},{"d":"2026-06-16","s":"BB Upper","v":6.75},{"d":"2026-06-24","s":"BB Upper","v":6.45},{"d":"2026-06-29","s":"BB Upper","v":6.55},{"d":"2026-07-02","s":"BB Upper","v":6.62},{"d":"2026-07-08","s":"BB Upper","v":6.75},{"d":"2026-07-13","s":"BB Upper","v":6.85},{"d":"2026-07-15","s":"BB Upper","v":7.04},{"d":"2026-07-17","s":"BB Upper","v":7.32},{"d":"2026-07-22","s":"BB Upper","v":7.45},{"d":"2026-07-24","s":"BB Upper","v":7.59},{"d":"2026-07-27","s":"BB Upper","v":7.72},{"d":"2026-07-29","s":"BB Upper","v":8.32},{"d":"2026-08-03","s":"BB Upper","v":8.52},{"d":"2026-08-06","s":"BB Upper","v":8.63},
      {"d":"2025-06-25","s":"BB Lower","v":19.88},{"d":"2025-06-26","s":"BB Lower","v":20.88},{"d":"2025-06-27","s":"BB Lower","v":21.03},{"d":"2025-06-30","s":"BB Lower","v":20.94},{"d":"2025-07-02","s":"BB Lower","v":20.5},{"d":"2025-07-07","s":"BB Lower","v":20.5},{"d":"2025-07-10","s":"BB Lower","v":20.25},{"d":"2025-07-16","s":"BB Lower","v":20.19},{"d":"2025-07-17","s":"BB Lower","v":18.13},{"d":"2025-07-18","s":"BB Lower","v":17.25},{"d":"2025-07-21","s":"BB Lower","v":17.13},{"d":"2025-07-22","s":"BB Lower","v":16.63},{"d":"2025-07-28","s":"BB Lower","v":17.38},{"d":"2025-07-30","s":"BB Lower","v":18.5},{"d":"2025-08-01","s":"BB Lower","v":19.3},{"d":"2025-08-05","s":"BB Lower","v":19.89},{"d":"2025-08-07","s":"BB Lower","v":19.25},{"d":"2025-08-11","s":"BB Lower","v":19.07},{"d":"2025-08-12","s":"BB Lower","v":19.02},{"d":"2025-08-14","s":"BB Lower","v":18.8},{"d":"2025-08-18","s":"BB Lower","v":18.43},{"d":"2025-08-21","s":"BB Lower","v":19.11},{"d":"2025-08-26","s":"BB Lower","v":19.5},{"d":"2025-08-28","s":"BB Lower","v":19.5},{"d":"2025-09-02","s":"BB Lower","v":18.8},{"d":"2025-09-04","s":"BB Lower","v":17.0},{"d":"2025-09-08","s":"BB Lower","v":16.57},{"d":"2025-09-09","s":"BB Lower","v":16.48},{"d":"2025-09-15","s":"BB Lower","v":16.71},{"d":"2025-09-17","s":"BB Lower","v":16.8},{"d":"2025-09-22","s":"BB Lower","v":16.71},{"d":"2025-09-24","s":"BB Lower","v":16.39},{"d":"2025-09-26","s":"BB Lower","v":15.98},{"d":"2025-09-29","s":"BB Lower","v":15.84},{"d":"2025-10-02","s":"BB Lower","v":17.2},{"d":"2025-10-03","s":"BB Lower","v":17.84},{"d":"2025-10-08","s":"BB Lower","v":18.93},{"d":"2025-10-09","s":"BB Lower","v":19.26},{"d":"2025-10-13","s":"BB Lower","v":19.66},{"d":"2025-10-15","s":"BB Lower","v":20.16},{"d":"2025-10-16","s":"BB Lower","v":19.94},{"d":"2025-10-20","s":"BB Lower","v":19.21},{"d":"2025-10-23","s":"BB Lower","v":17.76},{"d":"2025-10-27","s":"BB Lower","v":17.12},{"d":"2025-10-30","s":"BB Lower","v":16.39},{"d":"2025-10-31","s":"BB Lower","v":16.32},{"d":"2025-11-04","s":"BB Lower","v":15.76},{"d":"2025-11-10","s":"BB Lower","v":15.53},{"d":"2025-11-11","s":"BB Lower","v":15.6},{"d":"2025-11-12","s":"BB Lower","v":15.03},{"d":"2025-11-14","s":"BB Lower","v":14.4},{"d":"2025-11-18","s":"BB Lower","v":13.85},{"d":"2025-11-20","s":"BB Lower","v":12.22},{"d":"2025-11-25","s":"BB Lower","v":11.22},{"d":"2025-11-28","s":"BB Lower","v":10.67},{"d":"2025-12-01","s":"BB Lower","v":10.35},{"d":"2025-12-03","s":"BB Lower","v":10.3},{"d":"2025-12-05","s":"BB Lower","v":10.6},{"d":"2025-12-09","s":"BB Lower","v":11.49},{"d":"2025-12-12","s":"BB Lower","v":11.9},{"d":"2025-12-15","s":"BB Lower","v":11.68},{"d":"2025-12-18","s":"BB Lower","v":11.09},{"d":"2025-12-22","s":"BB Lower","v":11.04},{"d":"2025-12-26","s":"BB Lower","v":10.73},{"d":"2025-12-31","s":"BB Lower","v":10.23},{"d":"2026-01-05","s":"BB Lower","v":10.32},{"d":"2026-01-09","s":"BB Lower","v":10.5},{"d":"2026-01-14","s":"BB Lower","v":10.59},{"d":"2026-01-16","s":"BB Lower","v":10.14},{"d":"2026-01-20","s":"BB Lower","v":9.91},{"d":"2026-01-23","s":"BB Lower","v":9.95},{"d":"2026-01-28","s":"BB Lower","v":9.91},{"d":"2026-02-02","s":"BB Lower","v":9.91},{"d":"2026-02-05","s":"BB Lower","v":9.64},{"d":"2026-02-10","s":"BB Lower","v":9.64},{"d":"2026-02-13","s":"BB Lower","v":9.5},{"d":"2026-02-17","s":"BB Lower","v":9.5},{"d":"2026-02-20","s":"BB Lower","v":9.32},{"d":"2026-02-23","s":"BB Lower","v":9.16},{"d":"2026-02-27","s":"BB Lower","v":9.18},{"d":"2026-03-04","s":"BB Lower","v":9.27},{"d":"2026-03-10","s":"BB Lower","v":9.41},{"d":"2026-03-16","s":"BB Lower","v":9.45},{"d":"2026-03-24","s":"BB Lower","v":9.64},{"d":"2026-03-27","s":"BB Lower","v":9.45},{"d":"2026-03-31","s":"BB Lower","v":9.32},{"d":"2026-04-06","s":"BB Lower","v":9.16},{"d":"2026-04-10","s":"BB Lower","v":8.5},{"d":"2026-04-13","s":"BB Lower","v":8.46},{"d":"2026-04-17","s":"BB Lower","v":7.87},{"d":"2026-04-20","s":"BB Lower","v":7.37},{"d":"2026-04-23","s":"BB Lower","v":6.6},{"d":"2026-04-27","s":"BB Lower","v":5.9},{"d":"2026-04-30","s":"BB Lower","v":5.1},{"d":"2026-05-05","s":"BB Lower","v":4.98},{"d":"2026-05-07","s":"BB Lower","v":4.91},{"d":"2026-05-11","s":"BB Lower","v":5.3},{"d":"2026-05-14","s":"BB Lower","v":5.6},{"d":"2026-05-20","s":"BB Lower","v":5.52},{"d":"2026-05-27","s":"BB Lower","v":5.54},{"d":"2026-06-02","s":"BB Lower","v":5.52},{"d":"2026-06-05","s":"BB Lower","v":5.45},{"d":"2026-06-09","s":"BB Lower","v":5.1},{"d":"2026-06-12","s":"BB Lower","v":4.8},{"d":"2026-06-17","s":"BB Lower","v":4.6},{"d":"2026-06-24","s":"BB Lower","v":4.42},{"d":"2026-06-29","s":"BB Lower","v":4.36},{"d":"2026-07-06","s":"BB Lower","v":4.27},{"d":"2026-07-09","s":"BB Lower","v":4.3},{"d":"2026-07-14","s":"BB Lower","v":4.55},{"d":"2026-07-16","s":"BB Lower","v":4.59},{"d":"2026-07-21","s":"BB Lower","v":4.77},{"d":"2026-07-23","s":"BB Lower","v":5.0},{"d":"2026-07-27","s":"BB Lower","v":5.0},{"d":"2026-07-30","s":"BB Lower","v":4.77},{"d":"2026-08-03","s":"BB Lower","v":4.85},{"d":"2026-08-06","s":"BB Lower","v":5.0},
      {"d":"2025-06-25","s":"BB Mid (20)","v":22.06},{"d":"2025-06-27","s":"BB Mid (20)","v":21.9},{"d":"2025-06-30","s":"BB Mid (20)","v":21.75},{"d":"2025-07-02","s":"BB Mid (20)","v":21.56},{"d":"2025-07-07","s":"BB Mid (20)","v":21.53},{"d":"2025-07-11","s":"BB Mid (20)","v":21.75},{"d":"2025-07-16","s":"BB Mid (20)","v":21.94},{"d":"2025-07-17","s":"BB Mid (20)","v":22.38},{"d":"2025-07-18","s":"BB Mid (20)","v":22.81},{"d":"2025-07-21","s":"BB Mid (20)","v":23.15},{"d":"2025-07-22","s":"BB Mid (20)","v":23.63},{"d":"2025-07-25","s":"BB Mid (20)","v":24.75},{"d":"2025-07-29","s":"BB Mid (20)","v":25.56},{"d":"2025-08-01","s":"BB Mid (20)","v":26.0},{"d":"2025-08-05","s":"BB Mid (20)","v":26.22},{"d":"2025-08-08","s":"BB Mid (20)","v":26.02},{"d":"2025-08-12","s":"BB Mid (20)","v":25.97},{"d":"2025-08-14","s":"BB Mid (20)","v":25.29},{"d":"2025-08-15","s":"BB Mid (20)","v":24.93},{"d":"2025-08-18","s":"BB Mid (20)","v":24.56},{"d":"2025-08-20","s":"BB Mid (20)","v":23.47},{"d":"2025-08-21","s":"BB Mid (20)","v":22.88},{"d":"2025-08-25","s":"BB Mid (20)","v":22.52},{"d":"2025-08-27","s":"BB Mid (20)","v":22.07},{"d":"2025-08-29","s":"BB Mid (20)","v":21.66},{"d":"2025-09-02","s":"BB Mid (20)","v":21.43},{"d":"2025-09-04","s":"BB Mid (20)","v":20.75},{"d":"2025-09-05","s":"BB Mid (20)","v":20.52},{"d":"2025-09-09","s":"BB Mid (20)","v":20.25},{"d":"2025-09-12","s":"BB Mid (20)","v":19.75},{"d":"2025-09-15","s":"BB Mid (20)","v":19.75},{"d":"2025-09-17","s":"BB Mid (20)","v":19.5},{"d":"2025-09-22","s":"BB Mid (20)","v":19.61},{"d":"2025-09-24","s":"BB Mid (20)","v":19.84},{"d":"2025-09-29","s":"BB Mid (20)","v":20.3},{"d":"2025-10-01","s":"BB Mid (20)","v":20.84},{"d":"2025-10-03","s":"BB Mid (20)","v":21.66},{"d":"2025-10-06","s":"BB Mid (20)","v":21.88},{"d":"2025-10-09","s":"BB Mid (20)","v":22.43},{"d":"2025-10-15","s":"BB Mid (20)","v":22.71},{"d":"2025-10-20","s":"BB Mid (20)","v":22.48},{"d":"2025-10-24","s":"BB Mid (20)","v":21.62},{"d":"2025-10-27","s":"BB Mid (20)","v":21.3},{"d":"2025-10-28","s":"BB Mid (20)","v":21.03},{"d":"2025-10-31","s":"BB Mid (20)","v":20.03},{"d":"2025-11-03","s":"BB Mid (20)","v":19.57},{"d":"2025-11-06","s":"BB Mid (20)","v":18.85},{"d":"2025-11-10","s":"BB Mid (20)","v":18.53},{"d":"2025-11-12","s":"BB Mid (20)","v":18.12},{"d":"2025-11-18","s":"BB Mid (20)","v":16.85},{"d":"2025-11-20","s":"BB Mid (20)","v":16.03},{"d":"2025-11-21","s":"BB Mid (20)","v":15.76},{"d":"2025-11-25","s":"BB Mid (20)","v":15.03},{"d":"2025-12-01","s":"BB Mid (20)","v":14.67},{"d":"2025-12-04","s":"BB Mid (20)","v":14.35},{"d":"2025-12-08","s":"BB Mid (20)","v":14.03},{"d":"2025-12-10","s":"BB Mid (20)","v":13.49},{"d":"2025-12-12","s":"BB Mid (20)","v":13.2},{"d":"2025-12-15","s":"BB Mid (20)","v":12.82},{"d":"2025-12-18","s":"BB Mid (20)","v":12.66},{"d":"2025-12-22","s":"BB Mid (20)","v":12.63},{"d":"2025-12-31","s":"BB Mid (20)","v":12.09},{"d":"2026-01-05","s":"BB Mid (20)","v":11.82},{"d":"2026-01-08","s":"BB Mid (20)","v":11.63},{"d":"2026-01-12","s":"BB Mid (20)","v":11.54},{"d":"2026-01-16","s":"BB Mid (20)","v":11.23},{"d":"2026-01-21","s":"BB Mid (20)","v":11.18},{"d":"2026-01-23","s":"BB Mid (20)","v":11.04},{"d":"2026-01-28","s":"BB Mid (20)","v":11.0},{"d":"2026-02-03","s":"BB Mid (20)","v":10.95},{"d":"2026-02-05","s":"BB Mid (20)","v":10.77},{"d":"2026-02-10","s":"BB Mid (20)","v":10.77},{"d":"2026-02-13","s":"BB Mid (20)","v":10.68},{"d":"2026-02-17","s":"BB Mid (20)","v":10.52},{"d":"2026-02-19","s":"BB Mid (20)","v":10.5},{"d":"2026-02-24","s":"BB Mid (20)","v":10.32},{"d":"2026-02-27","s":"BB Mid (20)","v":10.18},{"d":"2026-03-04","s":"BB Mid (20)","v":10.14},{"d":"2026-03-09","s":"BB Mid (20)","v":10.05},{"d":"2026-03-13","s":"BB Mid (20)","v":10.05},{"d":"2026-03-19","s":"BB Mid (20)","v":10.09},{"d":"2026-03-24","s":"BB Mid (20)","v":10.18},{"d":"2026-03-27","s":"BB Mid (20)","v":10.05},{"d":"2026-04-02","s":"BB Mid (20)","v":10.0},{"d":"2026-04-06","s":"BB Mid (20)","v":9.95},{"d":"2026-04-10","s":"BB Mid (20)","v":9.68},{"d":"2026-04-13","s":"BB Mid (20)","v":9.64},{"d":"2026-04-16","s":"BB Mid (20)","v":9.27},{"d":"2026-04-20","s":"BB Mid (20)","v":9.05},{"d":"2026-04-24","s":"BB Mid (20)","v":8.5},{"d":"2026-04-28","s":"BB Mid (20)","v":7.95},{"d":"2026-04-30","s":"BB Mid (20)","v":7.5},{"d":"2026-05-05","s":"BB Mid (20)","v":7.27},{"d":"2026-05-08","s":"BB Mid (20)","v":6.86},{"d":"2026-05-11","s":"BB Mid (20)","v":6.59},{"d":"2026-05-14","s":"BB Mid (20)","v":6.32},{"d":"2026-05-19","s":"BB Mid (20)","v":6.09},{"d":"2026-05-27","s":"BB Mid (20)","v":6.09},{"d":"2026-06-01","s":"BB Mid (20)","v":6.18},{"d":"2026-06-05","s":"BB Mid (20)","v":6.0},{"d":"2026-06-11","s":"BB Mid (20)","v":5.73},{"d":"2026-06-17","s":"BB Mid (20)","v":5.64},{"d":"2026-06-24","s":"BB Mid (20)","v":5.5},{"d":"2026-06-29","s":"BB Mid (20)","v":5.45},{"d":"2026-07-02","s":"BB Mid (20)","v":5.52},{"d":"2026-07-09","s":"BB Mid (20)","v":5.61},{"d":"2026-07-13","s":"BB Mid (20)","v":5.66},{"d":"2026-07-15","s":"BB Mid (20)","v":5.66},{"d":"2026-07-17","s":"BB Mid (20)","v":5.86},{"d":"2026-07-21","s":"BB Mid (20)","v":5.97},{"d":"2026-07-23","s":"BB Mid (20)","v":6.18},{"d":"2026-07-27","s":"BB Mid (20)","v":6.27},{"d":"2026-07-30","s":"BB Mid (20)","v":6.45},{"d":"2026-08-04","s":"BB Mid (20)","v":6.61},{"d":"2026-08-06","s":"BB Mid (20)","v":6.7},
      {"d":"2025-05-28","s":"EMA200","v":26.25},{"d":"2025-06-06","s":"EMA200","v":26.03},{"d":"2025-06-18","s":"EMA200","v":25.75},{"d":"2025-07-01","s":"EMA200","v":25.31},{"d":"2025-07-16","s":"EMA200","v":25.1},{"d":"2025-07-21","s":"EMA200","v":25.35},{"d":"2025-07-28","s":"EMA200","v":25.48},{"d":"2025-08-01","s":"EMA200","v":25.44},{"d":"2025-08-05","s":"EMA200","v":25.38},{"d":"2025-08-07","s":"EMA200","v":25.29},{"d":"2025-08-12","s":"EMA200","v":25.15},{"d":"2025-08-15","s":"EMA200","v":25.11},{"d":"2025-08-18","s":"EMA200","v":25.06},{"d":"2025-08-21","s":"EMA200","v":24.97},{"d":"2025-08-26","s":"EMA200","v":24.84},{"d":"2025-09-02","s":"EMA200","v":24.67},{"d":"2025-09-04","s":"EMA200","v":24.43},{"d":"2025-09-09","s":"EMA200","v":24.36},{"d":"2025-09-12","s":"EMA200","v":24.2},{"d":"2025-09-19","s":"EMA200","v":24.0},{"d":"2025-09-26","s":"EMA200","v":23.95},{"d":"2025-10-03","s":"EMA200","v":23.95},{"d":"2025-10-08","s":"EMA200","v":23.91},{"d":"2025-10-16","s":"EMA200","v":23.75},{"d":"2025-10-23","s":"EMA200","v":23.57},{"d":"2025-10-30","s":"EMA200","v":23.25},{"d":"2025-11-04","s":"EMA200","v":23.12},{"d":"2025-11-10","s":"EMA200","v":22.89},{"d":"2025-11-17","s":"EMA200","v":22.52},{"d":"2025-11-20","s":"EMA200","v":22.12},{"d":"2025-11-24","s":"EMA200","v":21.98},{"d":"2025-12-01","s":"EMA200","v":21.71},{"d":"2025-12-03","s":"EMA200","v":21.53},{"d":"2025-12-08","s":"EMA200","v":21.25},{"d":"2025-12-12","s":"EMA200","v":20.89},{"d":"2025-12-24","s":"EMA200","v":20.14},{"d":"2026-01-07","s":"EMA200","v":19.3},{"d":"2026-01-21","s":"EMA200","v":18.5},{"d":"2026-02-04","s":"EMA200","v":17.8},{"d":"2026-02-18","s":"EMA200","v":17.13},{"d":"2026-03-04","s":"EMA200","v":16.48},{"d":"2026-03-18","s":"EMA200","v":15.82},{"d":"2026-04-02","s":"EMA200","v":15.27},{"d":"2026-04-16","s":"EMA200","v":14.66},{"d":"2026-04-30","s":"EMA200","v":13.92},{"d":"2026-05-14","s":"EMA200","v":13.12},{"d":"2026-05-28","s":"EMA200","v":12.58},{"d":"2026-06-11","s":"EMA200","v":12.0},{"d":"2026-06-25","s":"EMA200","v":11.34},{"d":"2026-07-09","s":"EMA200","v":10.9},{"d":"2026-07-23","s":"EMA200","v":10.49},{"d":"2026-08-06","s":"EMA200","v":10.2},
      {"d":"2025-05-28","s":"EMA100","v":26.25},{"d":"2025-06-02","s":"EMA100","v":26.1},{"d":"2025-06-06","s":"EMA100","v":25.75},{"d":"2025-06-13","s":"EMA100","v":25.38},{"d":"2025-06-23","s":"EMA100","v":25.06},{"d":"2025-06-27","s":"EMA100","v":24.78},{"d":"2025-06-30","s":"EMA100","v":24.69},{"d":"2025-07-03","s":"EMA100","v":24.48},{"d":"2025-07-08","s":"EMA100","v":24.38},{"d":"2025-07-16","s":"EMA100","v":24.23},{"d":"2025-07-18","s":"EMA100","v":24.48},{"d":"2025-07-21","s":"EMA100","v":24.56},{"d":"2025-07-25","s":"EMA100","v":25.0},{"d":"2025-07-28","s":"EMA100","v":25.06},{"d":"2025-08-01","s":"EMA100","v":25.03},{"d":"2025-08-07","s":"EMA100","v":24.79},{"d":"2025-08-12","s":"EMA100","v":24.67},{"d":"2025-08-14","s":"EMA100","v":24.56},{"d":"2025-08-18","s":"EMA100","v":24.47},{"d":"2025-08-21","s":"EMA100","v":24.25},{"d":"2025-08-26","s":"EMA100","v":24.13},{"d":"2025-08-29","s":"EMA100","v":23.88},{"d":"2025-09-02","s":"EMA100","v":23.76},{"d":"2025-09-04","s":"EMA100","v":23.38},{"d":"2025-09-08","s":"EMA100","v":23.27},{"d":"2025-09-11","s":"EMA100","v":23.02},{"d":"2025-09-16","s":"EMA100","v":22.84},{"d":"2025-09-18","s":"EMA100","v":22.73},{"d":"2025-09-26","s":"EMA100","v":22.75},{"d":"2025-09-30","s":"EMA100","v":22.79},{"d":"2025-10-03","s":"EMA100","v":22.88},{"d":"2025-10-08","s":"EMA100","v":22.88},{"d":"2025-10-15","s":"EMA100","v":22.8},{"d":"2025-10-21","s":"EMA100","v":22.57},{"d":"2025-10-24","s":"EMA100","v":22.3},{"d":"2025-10-31","s":"EMA100","v":21.93},{"d":"2025-11-03","s":"EMA100","v":21.8},{"d":"2025-11-06","s":"EMA100","v":21.57},{"d":"2025-11-10","s":"EMA100","v":21.34},{"d":"2025-11-13","s":"EMA100","v":20.94},{"d":"2025-11-17","s":"EMA100","v":20.75},{"d":"2025-11-21","s":"EMA100","v":20.14},{"d":"2025-11-25","s":"EMA100","v":19.94},{"d":"2025-11-26","s":"EMA100","v":19.68},{"d":"2025-12-01","s":"EMA100","v":19.44},{"d":"2025-12-04","s":"EMA100","v":19.07},{"d":"2025-12-08","s":"EMA100","v":18.89},{"d":"2025-12-12","s":"EMA100","v":18.35},{"d":"2025-12-24","s":"EMA100","v":17.5},{"d":"2026-01-07","s":"EMA100","v":16.63},{"d":"2026-01-21","s":"EMA100","v":15.8},{"d":"2026-02-04","s":"EMA100","v":14.77},{"d":"2026-02-10","s":"EMA100","v":14.4},{"d":"2026-02-13","s":"EMA100","v":14.18},{"d":"2026-02-17","s":"EMA100","v":14.09},{"d":"2026-03-04","s":"EMA100","v":13.25},{"d":"2026-03-18","s":"EMA100","v":12.6},{"d":"2026-04-02","s":"EMA100","v":12.05},{"d":"2026-04-16","s":"EMA100","v":11.47},{"d":"2026-04-24","s":"EMA100","v":11.09},{"d":"2026-05-01","s":"EMA100","v":10.6},{"d":"2026-05-13","s":"EMA100","v":9.8},{"d":"2026-05-28","s":"EMA100","v":9.05},{"d":"2026-06-10","s":"EMA100","v":8.5},{"d":"2026-06-22","s":"EMA100","v":8.15},{"d":"2026-06-25","s":"EMA100","v":7.95},{"d":"2026-07-01","s":"EMA100","v":7.84},{"d":"2026-07-08","s":"EMA100","v":7.72},{"d":"2026-07-14","s":"EMA100","v":7.56},{"d":"2026-07-20","s":"EMA100","v":7.48},{"d":"2026-07-23","s":"EMA100","v":7.45},{"d":"2026-07-28","s":"EMA100","v":7.43},{"d":"2026-08-06","s":"EMA100","v":7.43},
      {"d":"2025-05-28","s":"EMA50","v":26.25},{"d":"2025-06-02","s":"EMA50","v":25.9},{"d":"2025-06-06","s":"EMA50","v":25.31},{"d":"2025-06-09","s":"EMA50","v":25.15},{"d":"2025-06-13","s":"EMA50","v":24.65},{"d":"2025-06-16","s":"EMA50","v":24.5},{"d":"2025-06-20","s":"EMA50","v":24.25},{"d":"2025-06-23","s":"EMA50","v":24.1},{"d":"2025-06-27","s":"EMA50","v":23.75},{"d":"2025-06-30","s":"EMA50","v":23.63},{"d":"2025-07-03","s":"EMA50","v":23.35},{"d":"2025-07-07","s":"EMA50","v":23.25},{"d":"2025-07-16","s":"EMA50","v":23.21},{"d":"2025-07-17","s":"EMA50","v":23.5},{"d":"2025-07-18","s":"EMA50","v":23.78},{"d":"2025-07-21","s":"EMA50","v":23.94},{"d":"2025-07-25","s":"EMA50","v":24.88},{"d":"2025-07-28","s":"EMA50","v":25.03},{"d":"2025-08-01","s":"EMA50","v":24.95},{"d":"2025-08-05","s":"EMA50","v":24.88},{"d":"2025-08-07","s":"EMA50","v":24.47},{"d":"2025-08-12","s":"EMA50","v":24.29},{"d":"2025-08-14","s":"EMA50","v":24.11},{"d":"2025-08-18","s":"EMA50","v":24.02},{"d":"2025-08-21","s":"EMA50","v":23.58},{"d":"2025-08-26","s":"EMA50","v":23.43},{"d":"2025-08-29","s":"EMA50","v":22.93},{"d":"2025-09-02","s":"EMA50","v":22.79},{"d":"2025-09-04","s":"EMA50","v":22.2},{"d":"2025-09-08","s":"EMA50","v":21.98},{"d":"2025-09-12","s":"EMA50","v":21.66},{"d":"2025-09-16","s":"EMA50","v":21.52},{"d":"2025-09-18","s":"EMA50","v":21.43},{"d":"2025-09-23","s":"EMA50","v":21.52},{"d":"2025-09-26","s":"EMA50","v":21.75},{"d":"2025-09-30","s":"EMA50","v":21.84},{"d":"2025-10-03","s":"EMA50","v":22.16},{"d":"2025-10-06","s":"EMA50","v":22.25},{"d":"2025-10-09","s":"EMA50","v":22.16},{"d":"2025-10-15","s":"EMA50","v":22.12},{"d":"2025-10-21","s":"EMA50","v":21.84},{"d":"2025-10-23","s":"EMA50","v":21.44},{"d":"2025-10-27","s":"EMA50","v":21.3},{"d":"2025-10-31","s":"EMA50","v":20.8},{"d":"2025-11-03","s":"EMA50","v":20.62},{"d":"2025-11-07","s":"EMA50","v":20.12},{"d":"2025-11-11","s":"EMA50","v":19.94},{"d":"2025-11-13","s":"EMA50","v":19.39},{"d":"2025-11-17","s":"EMA50","v":19.12},{"d":"2025-11-21","s":"EMA50","v":18.12},{"d":"2025-11-24","s":"EMA50","v":17.89},{"d":"2025-11-26","s":"EMA50","v":17.53},{"d":"2025-12-01","s":"EMA50","v":17.21},{"d":"2025-12-04","s":"EMA50","v":16.98},{"d":"2025-12-08","s":"EMA50","v":16.53},{"d":"2025-12-12","s":"EMA50","v":15.89},{"d":"2025-12-24","s":"EMA50","v":14.77},{"d":"2025-12-29","s":"EMA50","v":14.54},{"d":"2025-12-31","s":"EMA50","v":14.22},{"d":"2026-01-05","s":"EMA50","v":13.99},{"d":"2026-01-09","s":"EMA50","v":13.59},{"d":"2026-01-12","s":"EMA50","v":13.5},{"d":"2026-01-16","s":"EMA50","v":13.09},{"d":"2026-01-21","s":"EMA50","v":12.95},{"d":"2026-01-26","s":"EMA50","v":12.68},{"d":"2026-01-29","s":"EMA50","v":12.45},{"d":"2026-02-05","s":"EMA50","v":12.09},{"d":"2026-02-09","s":"EMA50","v":12.0},{"d":"2026-02-12","s":"EMA50","v":11.82},{"d":"2026-02-17","s":"EMA50","v":11.65},{"d":"2026-02-19","s":"EMA50","v":11.5},{"d":"2026-02-26","s":"EMA50","v":11.23},{"d":"2026-03-02","s":"EMA50","v":11.14},{"d":"2026-03-06","s":"EMA50","v":11.0},{"d":"2026-03-10","s":"EMA50","v":10.91},{"d":"2026-03-13","s":"EMA50","v":10.82},{"d":"2026-03-19","s":"EMA50","v":10.73},{"d":"2026-03-25","s":"EMA50","v":10.64},{"d":"2026-03-31","s":"EMA50","v":10.54},{"d":"2026-04-06","s":"EMA50","v":10.41},{"d":"2026-04-10","s":"EMA50","v":10.18},{"d":"2026-04-14","s":"EMA50","v":10.09},{"d":"2026-04-20","s":"EMA50","v":9.73},{"d":"2026-04-24","s":"EMA50","v":9.27},{"d":"2026-05-05","s":"EMA50","v":8.5},{"d":"2026-05-11","s":"EMA50","v":8.15},{"d":"2026-05-14","s":"EMA50","v":7.86},{"d":"2026-05-18","s":"EMA50","v":7.72},{"d":"2026-05-21","s":"EMA50","v":7.52},{"d":"2026-05-27","s":"EMA50","v":7.41},{"d":"2026-06-01","s":"EMA50","v":7.27},{"d":"2026-06-04","s":"EMA50","v":7.09},{"d":"2026-06-09","s":"EMA50","v":6.88},{"d":"2026-06-11","s":"EMA50","v":6.68},{"d":"2026-06-16","s":"EMA50","v":6.55},{"d":"2026-06-22","s":"EMA50","v":6.32},{"d":"2026-06-24","s":"EMA50","v":6.27},{"d":"2026-07-09","s":"EMA50","v":6.24},{"d":"2026-07-14","s":"EMA50","v":6.13},{"d":"2026-07-16","s":"EMA50","v":6.15},{"d":"2026-07-21","s":"EMA50","v":6.23},{"d":"2026-07-23","s":"EMA50","v":6.3},{"d":"2026-07-28","s":"EMA50","v":6.32},{"d":"2026-07-30","s":"EMA50","v":6.41},{"d":"2026-08-03","s":"EMA50","v":6.5},{"d":"2026-08-06","s":"EMA50","v":6.66},
      {"d":"2025-05-28","s":"EMA20","v":26.28},{"d":"2025-05-30","s":"EMA20","v":25.75},{"d":"2025-06-02","s":"EMA20","v":25.4},{"d":"2025-06-06","s":"EMA20","v":24.19},{"d":"2025-06-09","s":"EMA20","v":24.0},{"d":"2025-06-13","s":"EMA20","v":23.15},{"d":"2025-06-16","s":"EMA20","v":23.0},{"d":"2025-06-20","s":"EMA20","v":22.7},{"d":"2025-06-23","s":"EMA20","v":22.63},{"d":"2025-06-26","s":"EMA20","v":22.31},{"d":"2025-06-30","s":"EMA20","v":22.19},{"d":"2025-07-02","s":"EMA20","v":21.88},{"d":"2025-07-07","s":"EMA20","v":21.78},{"d":"2025-07-08","s":"EMA20","v":21.94},{"d":"2025-07-10","s":"EMA20","v":22.15},{"d":"2025-07-14","s":"EMA20","v":22.25},{"d":"2025-07-16","s":"EMA20","v":22.38},{"d":"2025-07-17","s":"EMA20","v":23.2},{"d":"2025-07-18","s":"EMA20","v":23.88},{"d":"2025-07-21","s":"EMA20","v":24.31},{"d":"2025-07-23","s":"EMA20","v":25.6},{"d":"2025-07-25","s":"EMA20","v":26.25},{"d":"2025-07-28","s":"EMA20","v":26.44},{"d":"2025-07-30","s":"EMA20","v":26.19},{"d":"2025-08-01","s":"EMA20","v":25.9},{"d":"2025-08-04","s":"EMA20","v":25.7},{"d":"2025-08-05","s":"EMA20","v":25.6},{"d":"2025-08-06","s":"EMA20","v":25.2},{"d":"2025-08-08","s":"EMA20","v":24.56},{"d":"2025-08-11","s":"EMA20","v":24.43},{"d":"2025-08-12","s":"EMA20","v":24.09},{"d":"2025-08-14","s":"EMA20","v":23.7},{"d":"2025-08-18","s":"EMA20","v":23.52},{"d":"2025-08-21","s":"EMA20","v":22.61},{"d":"2025-08-26","s":"EMA20","v":22.38},{"d":"2025-08-29","s":"EMA20","v":21.84},{"d":"2025-09-02","s":"EMA20","v":21.43},{"d":"2025-09-04","s":"EMA20","v":20.75},{"d":"2025-09-05","s":"EMA20","v":20.3},{"d":"2025-09-10","s":"EMA20","v":20.02},{"d":"2025-09-12","s":"EMA20","v":19.93},{"d":"2025-09-17","s":"EMA20","v":19.93},{"d":"2025-09-18","s":"EMA20","v":20.11},{"d":"2025-09-22","s":"EMA20","v":20.34},{"d":"2025-09-26","s":"EMA20","v":21.25},{"d":"2025-09-29","s":"EMA20","v":21.66},{"d":"2025-10-03","s":"EMA20","v":22.43},{"d":"2025-10-06","s":"EMA20","v":22.57},{"d":"2025-10-09","s":"EMA20","v":22.34},{"d":"2025-10-15","s":"EMA20","v":22.16},{"d":"2025-10-16","s":"EMA20","v":21.75},{"d":"2025-10-20","s":"EMA20","v":21.59},{"d":"2025-10-23","s":"EMA20","v":20.71},{"d":"2025-10-27","s":"EMA20","v":20.44},{"d":"2025-10-31","s":"EMA20","v":19.57},{"d":"2025-11-03","s":"EMA20","v":19.35},{"d":"2025-11-05","s":"EMA20","v":18.89},{"d":"2025-11-10","s":"EMA20","v":18.53},{"d":"2025-11-12","s":"EMA20","v":18.12},{"d":"2025-11-14","s":"EMA20","v":17.57},{"d":"2025-11-17","s":"EMA20","v":17.12},{"d":"2025-11-21","s":"EMA20","v":15.53},{"d":"2025-11-24","s":"EMA20","v":15.26},{"d":"2025-11-26","s":"EMA20","v":14.9},{"d":"2025-12-01","s":"EMA20","v":14.58},{"d":"2025-12-03","s":"EMA20","v":14.35},{"d":"2025-12-08","s":"EMA20","v":14.17},{"d":"2025-12-12","s":"EMA20","v":13.6},{"d":"2025-12-16","s":"EMA20","v":13.45},{"d":"2025-12-19","s":"EMA20","v":12.82},{"d":"2025-12-22","s":"EMA20","v":12.77},{"d":"2025-12-26","s":"EMA20","v":12.5},{"d":"2025-12-29","s":"EMA20","v":12.36},{"d":"2025-12-31","s":"EMA20","v":12.13},{"d":"2026-01-02","s":"EMA20","v":12.0},{"d":"2026-01-05","s":"EMA20","v":11.91},{"d":"2026-01-08","s":"EMA20","v":11.77},{"d":"2026-01-12","s":"EMA20","v":11.63},{"d":"2026-01-16","s":"EMA20","v":11.27},{"d":"2026-01-21","s":"EMA20","v":11.14},{"d":"2026-01-23","s":"EMA20","v":11.18},{"d":"2026-01-27","s":"EMA20","v":11.14},{"d":"2026-01-30","s":"EMA20","v":11.09},{"d":"2026-02-02","s":"EMA20","v":11.04},{"d":"2026-02-05","s":"EMA20","v":10.86},{"d":"2026-02-10","s":"EMA20","v":10.77},{"d":"2026-02-13","s":"EMA20","v":10.64},{"d":"2026-02-17","s":"EMA20","v":10.55},{"d":"2026-02-20","s":"EMA20","v":10.36},{"d":"2026-02-24","s":"EMA20","v":10.23},{"d":"2026-03-05","s":"EMA20","v":10.15},{"d":"2026-03-10","s":"EMA20","v":10.23},{"d":"2026-03-19","s":"EMA20","v":10.15},{"d":"2026-03-25","s":"EMA20","v":10.23},{"d":"2026-03-26","s":"EMA20","v":10.09},{"d":"2026-03-31","s":"EMA20","v":10.0},{"d":"2026-04-06","s":"EMA20","v":9.88},{"d":"2026-04-10","s":"EMA20","v":9.55},{"d":"2026-04-14","s":"EMA20","v":9.48},{"d":"2026-04-17","s":"EMA20","v":8.96},{"d":"2026-04-21","s":"EMA20","v":8.55},{"d":"2026-04-23","s":"EMA20","v":8.2},{"d":"2026-04-28","s":"EMA20","v":7.59},{"d":"2026-05-01","s":"EMA20","v":7.32},{"d":"2026-05-04","s":"EMA20","v":7.23},{"d":"2026-05-08","s":"EMA20","v":6.85},{"d":"2026-05-13","s":"EMA20","v":6.62},{"d":"2026-05-20","s":"EMA20","v":6.3},{"d":"2026-05-27","s":"EMA20","v":6.24},{"d":"2026-06-01","s":"EMA20","v":6.32},{"d":"2026-06-03","s":"EMA20","v":6.18},{"d":"2026-06-09","s":"EMA20","v":5.97},{"d":"2026-06-11","s":"EMA20","v":5.7},{"d":"2026-06-16","s":"EMA20","v":5.54},{"d":"2026-06-22","s":"EMA20","v":5.5},{"d":"2026-06-25","s":"EMA20","v":5.43},{"d":"2026-06-29","s":"EMA20","v":5.65},{"d":"2026-07-02","s":"EMA20","v":5.82},{"d":"2026-07-06","s":"EMA20","v":5.88},{"d":"2026-07-09","s":"EMA20","v":5.86},{"d":"2026-07-13","s":"EMA20","v":5.82},{"d":"2026-07-14","s":"EMA20","v":5.68},{"d":"2026-07-15","s":"EMA20","v":5.73},{"d":"2026-07-17","s":"EMA20","v":5.93},{"d":"2026-07-21","s":"EMA20","v":6.06},{"d":"2026-07-22","s":"EMA20","v":6.18},{"d":"2026-07-24","s":"EMA20","v":6.27},{"d":"2026-07-27","s":"EMA20","v":6.32},{"d":"2026-07-28","s":"EMA20","v":6.45},{"d":"2026-07-30","s":"EMA20","v":6.77},{"d":"2026-08-03","s":"EMA20","v":6.88},{"d":"2026-08-04","s":"EMA20","v":6.97},{"d":"2026-08-06","s":"EMA20","v":6.93}
    ]
  },
  "layer": [
    {
      "data": {"name": "grid"},
      "mark": {"type": "rule", "color": "#e3e3e3", "strokeWidth": 1},
      "encoding": {
        "x": {
          "field": "d", "type": "temporal",
          "scale": {"type": "utc", "domain": [{"year": 2025, "month": 5, "date": 27, "hours": 14, "utc": true}, {"year": 2026, "month": 8, "date": 6, "hours": 7, "utc": true}]},
          "axis": {
            "values": [
              {"year": 2025, "month": 6, "date": 1, "utc": true}, {"year": 2025, "month": 7, "date": 31, "utc": true},
              {"year": 2025, "month": 9, "date": 30, "utc": true}, {"year": 2025, "month": 12, "date": 1, "utc": true},
              {"year": 2026, "month": 2, "date": 2, "utc": true}, {"year": 2026, "month": 4, "date": 1, "utc": true},
              {"year": 2026, "month": 6, "date": 1, "utc": true}, {"year": 2026, "month": 8, "date": 3, "utc": true}
            ],
            "labelExpr": "utcFormat(utc(utcyear(datum.value), utcmonth(datum.value) + (utcdate(datum.value) > 20 ? 1 : 0), 15), '%b %Y')",
            "labelOverlap": false
          }
        }
      }
    },
    {
      "data": {"name": "candles"},
      "mark": {"type": "bar", "width": 3},
      "encoding": {
        "x": {"field": "d", "type": "temporal", "scale": {"type": "utc"}},
        "y": {"field": "v", "type": "quantitative", "scale": {"domain": [0, 35], "nice": false}, "axis": null},
        "color": {"condition": {"test": "datum.c >= datum.o", "value": "#c6eed6"}, "value": "#f8ccc8"}
      }
    },
    {
      "layer": [
        {
          "data": {"name": "lines"},
          "mark": {"type": "line", "interpolate": "linear"},
          "encoding": {
            "x": {"field": "d", "type": "temporal", "scale": {"type": "utc"}},
            "y": {
              "field": "v", "type": "quantitative",
              "scale": {"domain": [0, 35], "nice": false},
              "axis": {"orient": "right", "values": [0, 5, 10, 15, 20, 25, 30, 35]}
            },
            "color": {
              "field": "s", "type": "nominal",
              "scale": {
                "domain": ["LCID/USDT", "EMA20", "EMA50", "EMA100", "EMA200", "BB Mid (20)", "BB Upper", "BB Lower", "Volume"],
                "range": ["#666666", "#1e88e5", "#9b5ae6", "#8b5023", "#111111", "#9e9e9e", "#c8c8c8", "#c8c8c8", "#f8ccc8"]
              },
              "legend": {
                "orient": "none",
                "legendX": 781,
                "legendY": -30,
                "direction": "horizontal",
                "columns": 9,
                "title": null,
                "symbolType": "M-1.4,-1H1.4V1H-1.4Z",
                "symbolSize": 300,
                "symbolStrokeWidth": 2,
                "labelFontSize": 16,
                "labelColor": "#666666",
                "labelOffset": 8,
                "columnPadding": 10,
                "labelLimit": 0,
                "encode": {
                  "symbols": {
                    "update": {
                      "fill": [
                        {"test": "datum.value === 'LCID/USDT'", "value": "#666666"},
                        {"test": "datum.value === 'Volume'", "value": "#f8ccc8"},
                        {"test": "datum.value === 'EMA20'", "value": "#dfe8f1"},
                        {"test": "datum.value === 'EMA50'", "value": "#ebe3f3"},
                        {"test": "datum.value === 'EMA100'", "value": "#efe7df"},
                        {"test": "datum.value === 'BB Mid (20)'", "value": "#eeeeee"},
                        {"value": "#e6e6e6"}
                      ],
                      "stroke": [
                        {"test": "datum.value === 'Volume'", "value": "#f8ccc8"},
                        {"test": "datum.value === 'BB Upper' || datum.value === 'BB Lower'", "value": "#d6d6d6"},
                        {"scale": "color", "field": "value"}
                      ],
                      "strokeDash": [
                        {"test": "datum.value === 'EMA200'", "value": [5, 3]},
                        {"test": "datum.value === 'BB Mid (20)'", "value": [3, 2]},
                        {"value": [1, 0]}
                      ],
                      "strokeWidth": {"value": 2},
                      "opacity": {"value": 1}
                    }
                  }
                }
              }
            },
            "strokeDash": {
              "field": "s", "type": "nominal",
              "scale": {
                "domain": ["EMA20", "EMA50", "EMA100", "EMA200", "BB Mid (20)", "BB Upper", "BB Lower"],
                "range": [[1, 0], [1, 0], [1, 0], [8, 5], [4, 3], [1, 0], [1, 0]]
              },
              "legend": null
            },
            "strokeWidth": {
              "field": "s", "type": "ordinal",
              "scale": {
                "domain": ["EMA20", "EMA50", "EMA100", "EMA200", "BB Mid (20)", "BB Upper", "BB Lower"],
                "range": [3, 3, 2.2, 2.5, 1.4, 1.6, 1.6]
              },
              "legend": null
            }
          }
        },
        {
          "data": {"name": "candles"},
          "mark": {"type": "rule", "color": "#555555", "strokeWidth": 1.2},
          "encoding": {
            "x": {"field": "d", "type": "temporal", "scale": {"type": "utc"}},
            "y": {"field": "l", "type": "quantitative"},
            "y2": {"field": "h"}
          }
        },
        {
          "data": {"name": "candles"},
          "mark": {"type": "bar", "width": 4.5, "stroke": "#4a4a4a", "strokeWidth": 0.8},
          "encoding": {
            "x": {"field": "d", "type": "temporal", "scale": {"type": "utc"}},
            "y": {"field": "o", "type": "quantitative"},
            "y2": {"field": "c"},
            "fill": {"condition": {"test": "datum.c >= datum.o", "value": "#59966c"}, "value": "#c45440"}
          }
        }
      ]
    }
  ],
  "resolve": {"scale": {"y": "independent"}}
}
